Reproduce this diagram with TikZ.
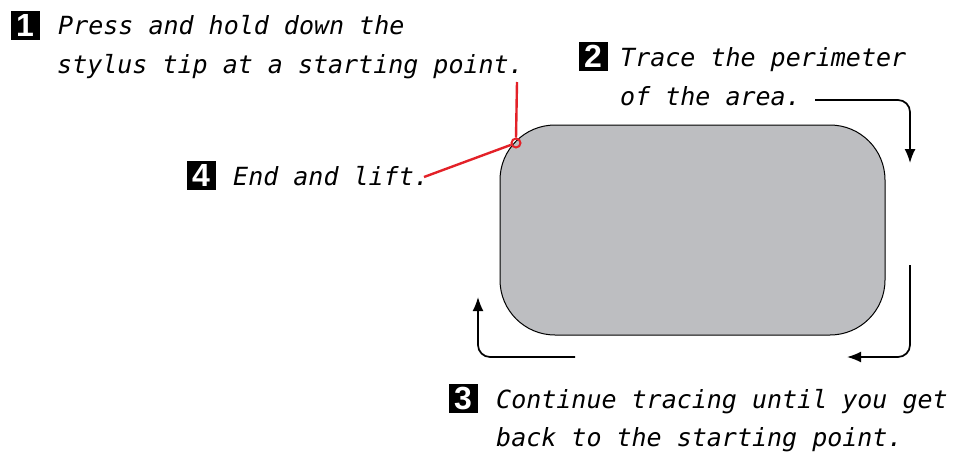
\documentclass[tikz,border=0pt]{standalone}
\usepackage{fontspec}
\newfontfamily\hand{DejaVu Sans Mono}
\newfontfamily\numfont{Liberation Sans}
\usetikzlibrary{arrows.meta}
\definecolor{areagray}{HTML}{BDBEC1}
\definecolor{tipred}{HTML}{E32128}
\tikzset{
  numbox/.style={fill=black,text=white,minimum size=29pt,inner sep=0pt,
    font=\numfont\bfseries\fontsize{32}{32}\selectfont},
  handtext/.style={anchor=base west,inner sep=0pt,
    font=\hand\itshape\fontsize{25}{30}\selectfont},
  flow/.style={line width=1.7pt,-{Latex[length=14pt,width=11pt]},rounded corners=12pt},
  redline/.style={tipred,line width=2.4pt}
}
\begin{document}
\begin{tikzpicture}[x=1pt,y=-1pt]
\useasboundingbox (0,0) rectangle (957,453);
% area
\node[draw=black,line width=1pt,fill=areagray,rounded corners=55pt,minimum width=385pt,minimum height=210pt,inner sep=0pt] (area) at (692.5,230) {};
% step 1
\node[numbox] (n1) at (25,25) {1};
\node[handtext] (t1a) at (58,34) {Press and hold down the};
\node[handtext] (t1b) at (57,73) {stylus tip at a starting point.};
% step 2
\node[numbox] (n2) at (593,56) {2};
\node[handtext] (t2a) at (620,66) {Trace the perimeter};
\node[handtext] (t2b) at (620,105) {of the area.};
% step 3
\node[numbox] (n3) at (463,398) {3};
\node[handtext] (t3a) at (496,408) {Continue tracing until you get};
\node[handtext] (t3b) at (496,446) {back to the starting point.};
% step 4
\node[numbox] (n4) at (201,175) {4};
\node[handtext] (t4) at (233,185) {End and lift.};
% red marker
\node[circle,draw=tipred,line width=2pt,minimum size=9pt,inner sep=0pt] (tip) at (516,143) {};
\coordinate (r1) at (517,82);
\coordinate (r4) at (424,177);
\draw[redline] (r1) -- (tip.north);
\draw[redline] (tip) -- (r4);
% arrows
\coordinate (a2s) at (815,100);
\coordinate (a2c) at (910,100);
\coordinate (a2e) at (910,163);
\draw[flow] (a2s) -- (a2c) -- (a2e);
\coordinate (a3s) at (910,265);
\coordinate (a3c) at (910,357);
\coordinate (a3e) at (847,357);
\draw[flow] (a3s) -- (a3c) -- (a3e);
\coordinate (a4s) at (575,357);
\coordinate (a4c) at (478,357);
\coordinate (a4e) at (478,297);
\draw[flow] (a4s) -- (a4c) -- (a4e);
\end{tikzpicture}
\end{document}
